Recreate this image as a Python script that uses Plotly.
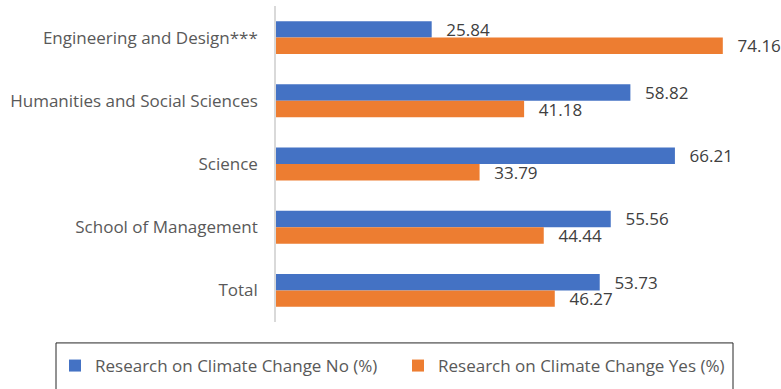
import plotly.graph_objects as go

categories = [
    "Engineering and Design***",
    "Humanities and Social Sciences",
    "Science",
    "School of Management",
    "Total",
]
no_values = [25.84, 58.82, 66.21, 55.56, 53.73]
yes_values = [74.16, 41.18, 33.79, 44.44, 46.27]
series_names = [
    "Research on Climate Change No (%)",
    "Research on Climate Change Yes (%)",
]
series_colors = ["#4472C4", "#ED7D31"]

W, H = 781, 389
L, R, T, B = 276, 23, 6, 66
plot_w = W - L - R
plot_h = H - T - B

PAD = "\u00a0\u00a0\u2009"

fig = go.Figure()
for name, vals, color in zip(series_names, [no_values, yes_values], series_colors):
    fig.add_trace(go.Bar(
        y=categories,
        x=vals,
        name=name,
        orientation="h",
        marker=dict(color=color, line=dict(width=0)),
        text=[PAD + f"{v:.2f}" for v in vals],
        textposition="outside",
        constraintext="none",
        cliponaxis=False,
        textfont=dict(family="Open Sans", size=17, color="#404040"),
        hoverinfo="skip",
    ))

# helpers: pixel position -> paper coordinates of the plot area
def px_to_paper_x(px):
    return (px - L) / plot_w

def px_to_paper_y(py):
    return (H - B - py) / plot_h

# legend frame
fig.add_shape(
    type="rect", xref="paper", yref="paper",
    x0=px_to_paper_x(56), x1=px_to_paper_x(733),
    y0=px_to_paper_y(400), y1=px_to_paper_y(344),
    line=dict(color="#262626", width=1), fillcolor="rgba(0,0,0,0)",
)

fig.update_layout(
    width=W, height=H,
    margin=dict(l=L, r=R, t=T, b=B, pad=0),
    paper_bgcolor="white", plot_bgcolor="white",
    barmode="group",
    bargap=0.48, bargroupgap=0,
    showlegend=True,
    legend=dict(
        orientation="h",
        x=px_to_paper_x(55), xanchor="left",
        y=px_to_paper_y(348), yanchor="top",
        font=dict(family="Open Sans", size=17, color="#595959"),
        entrywidth=298, entrywidthmode="pixels",
        bgcolor="rgba(0,0,0,0)", borderwidth=0,
        itemclick=False, itemdoubleclick=False,
    ),
    xaxis=dict(
        range=[0, 80], visible=False, fixedrange=True,
    ),
    yaxis=dict(
        autorange="reversed",
        showline=True, linecolor="#D9D9D9", linewidth=1.5,
        showgrid=False, zeroline=False,
        ticks="", ticklabelstandoff=13,
        tickfont=dict(family="Open Sans", size=17, color="#595959"),
        fixedrange=True,
    ),
    font=dict(family="Open Sans"),
)

fig.write_html("out.html", config={"displayModeBar": False})
